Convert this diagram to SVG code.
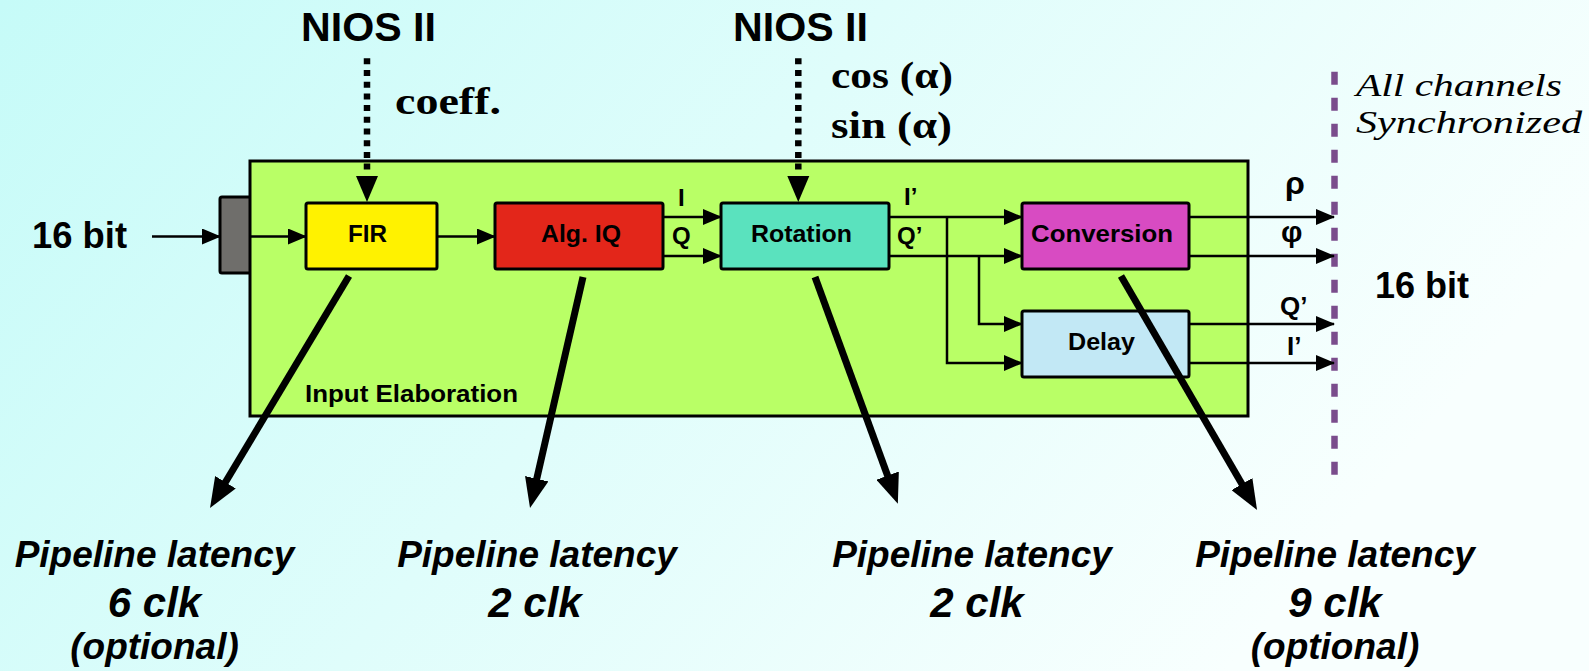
<svg xmlns="http://www.w3.org/2000/svg" width="1589" height="671" viewBox="0 0 1589 671">
<defs>
<linearGradient id="bg" x1="0" y1="0" x2="1" y2="0.35">
<stop offset="0" stop-color="#c6fbf8"/>
<stop offset="1" stop-color="#f8fffe"/>
</linearGradient>
<marker id="ah" markerUnits="userSpaceOnUse" markerWidth="19" markerHeight="16" refX="18" refY="8" orient="auto" viewBox="0 0 19 16">
<path d="M0,0 L19,8 L0,16 Z" fill="#000"/>
</marker>
<marker id="big" markerUnits="userSpaceOnUse" markerWidth="30" markerHeight="24" refX="10" refY="12" orient="auto" viewBox="0 0 30 24">
<path d="M0,0 L30,12 L0,24 Z" fill="#000"/>
</marker>
<style>
.box{stroke:#000;stroke-width:3}
.lbl{font-family:"Liberation Sans",Arial,sans-serif;font-weight:bold;fill:#000}
.ser{font-family:"Liberation Serif","Times New Roman",serif;font-weight:bold;fill:#000}
.sit{font-family:"Liberation Serif","Times New Roman",serif;font-style:italic;fill:#000}
.bi{font-family:"Liberation Sans",Arial,sans-serif;font-weight:bold;font-style:italic;fill:#000;text-anchor:middle}
.thin{stroke:#000;stroke-width:2.5;fill:none;marker-end:url(#ah)}
.thick{stroke:#000;stroke-width:7;fill:none;marker-end:url(#big)}
.dot{stroke:#000;stroke-width:6.5;stroke-dasharray:6 5.7;fill:none}
</style>
</defs>
<rect x="0" y="0" width="1589" height="671" fill="url(#bg)"/>

<g id="nios1">
<text class="lbl" x="301" y="41" font-size="41" textLength="135" lengthAdjust="spacingAndGlyphs">NIOS II</text>
<text class="ser" x="395" y="114" font-size="38" textLength="106" lengthAdjust="spacingAndGlyphs">coeff.</text>
</g>
<g id="nios2">
<text class="lbl" x="733" y="41" font-size="41" textLength="135" lengthAdjust="spacingAndGlyphs">NIOS II</text>
<text class="ser" x="831" y="88" font-size="38" textLength="122" lengthAdjust="spacingAndGlyphs">cos (α)</text>
<text class="ser" x="831" y="138" font-size="38" textLength="121" lengthAdjust="spacingAndGlyphs">sin (α)</text>
</g>

<g id="input-elaboration">
<rect x="220" y="197" width="31" height="76" rx="2" fill="#6f6e6b" class="box"/>
<rect x="250" y="161" width="998" height="255" fill="#b9ff66" class="box"/>
<text class="lbl" x="305" y="402" font-size="24" textLength="213" lengthAdjust="spacingAndGlyphs">Input Elaboration</text>
</g>

<g id="fir">
<rect x="306" y="203" width="131" height="66" rx="2" fill="#fff200" class="box"/>
<text class="lbl" x="348" y="242" font-size="24" textLength="39" lengthAdjust="spacingAndGlyphs">FIR</text>
</g>
<g id="algiq">
<rect x="495" y="203" width="168" height="66" rx="2" fill="#e3261a" class="box"/>
<text class="lbl" x="541" y="242" font-size="24" textLength="80" lengthAdjust="spacingAndGlyphs">Alg. IQ</text>
</g>
<g id="rotation">
<rect x="721" y="203" width="168" height="66" rx="2" fill="#5ae2be" class="box"/>
<text class="lbl" x="751" y="242" font-size="24" textLength="101" lengthAdjust="spacingAndGlyphs">Rotation</text>
</g>
<g id="conversion">
<rect x="1022" y="203" width="167" height="66" rx="2" fill="#d84bc2" class="box"/>
<text class="lbl" x="1031" y="242" font-size="24" textLength="142" lengthAdjust="spacingAndGlyphs">Conversion</text>
</g>
<g id="delay">
<rect x="1022" y="311" width="167" height="66" rx="2" fill="#c2e8f5" class="box"/>
<text class="lbl" x="1068" y="350" font-size="24" textLength="67" lengthAdjust="spacingAndGlyphs">Delay</text>
</g>

<g id="sync">
<line x1="1334.5" y1="71.7" x2="1334.5" y2="476" stroke="#7a4c8c" stroke-width="6.5" stroke-dasharray="13 13"/>
<text class="sit" x="1356" y="96" font-size="32" textLength="206" lengthAdjust="spacingAndGlyphs">All channels</text>
<text class="sit" x="1356" y="133" font-size="32" textLength="226" lengthAdjust="spacingAndGlyphs">Synchronized</text>
</g>

<g id="connectors">
<line class="dot" x1="367" y1="58.3" x2="367" y2="171"/>
<path d="M356,176 L378,176 L367,202 Z" fill="#000"/>
<line class="dot" x1="798.3" y1="58.3" x2="798.3" y2="171"/>
<path d="M787.3,176 L809.3,176 L798.3,202 Z" fill="#000"/>
<path class="thin" d="M152,236.5 H220"/>
<path class="thin" d="M251,236.5 H306"/>
<path class="thin" d="M437,236.5 H495"/>
<path class="thin" d="M663,217 H721"/>
<path class="thin" d="M663,256 H721"/>
<path class="thin" d="M889,217 H1022"/>
<path class="thin" d="M889,256 H1022"/>
<path class="thin" d="M947,217 V363 H1022"/>
<path class="thin" d="M979,256 V324 H1022"/>
<path class="thin" d="M1189,217 H1334"/>
<path class="thin" d="M1189,256 H1334"/>
<path class="thin" d="M1189,324 H1334"/>
<path class="thin" d="M1189,363 H1334"/>
<line class="thick" x1="349" y1="276" x2="220.3" y2="490.8"/>
<line class="thick" x1="583" y1="277" x2="534.5" y2="488.5"/>
<line class="thick" x1="815" y1="277" x2="891" y2="485"/>
<line class="thick" x1="1121" y1="276" x2="1247" y2="492.7"/>
</g>

<g id="signal-labels">
<text class="lbl" x="32" y="248" font-size="36" textLength="95" lengthAdjust="spacingAndGlyphs">16 bit</text>
<text class="lbl" x="1375" y="298" font-size="36" textLength="94" lengthAdjust="spacingAndGlyphs">16 bit</text>
<text class="lbl" x="678" y="206" font-size="24">I</text>
<text class="lbl" x="672" y="244" font-size="24">Q</text>
<text class="lbl" x="904" y="205" font-size="24">I’</text>
<text class="lbl" x="897" y="244" font-size="24">Q’</text>
<text class="lbl" x="1285" y="194" font-size="32">ρ</text>
<text class="lbl" x="1281" y="242" font-size="30">φ</text>
<text class="lbl" x="1280" y="315" font-size="26">Q’</text>
<text class="lbl" x="1287" y="355" font-size="26">I’</text>
</g>

<g id="latency">
<text class="bi" x="154.5" y="567" font-size="37">Pipeline latency</text>
<text class="bi" x="154.5" y="617" font-size="42">6 clk</text>
<text class="bi" x="154.5" y="659" font-size="37">(optional)</text>
<text class="bi" x="537" y="567" font-size="37">Pipeline latency</text>
<text class="bi" x="535" y="617" font-size="42">2 clk</text>
<text class="bi" x="972" y="567" font-size="37">Pipeline latency</text>
<text class="bi" x="977" y="617" font-size="42">2 clk</text>
<text class="bi" x="1335" y="567" font-size="37">Pipeline latency</text>
<text class="bi" x="1335" y="617" font-size="42">9 clk</text>
<text class="bi" x="1335" y="659" font-size="37">(optional)</text>
</g>
</svg>
